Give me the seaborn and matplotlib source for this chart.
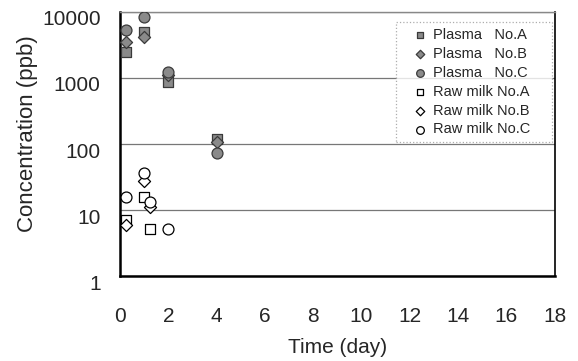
import pandas as pd
import numpy as np
import matplotlib
matplotlib.use("Agg")
import matplotlib.pyplot as plt
import matplotlib.transforms as mtransforms
import seaborn as sns

# data (log scale, ppb)
plasma_days = [0.25, 1, 2, 4]
plasma_A = [2450, 5000, 880, 120]
plasma_B = [3500, 4100, 1100, 108]
plasma_C = [5300, 8300, 1250, 74]

raw_A_days = [0.25, 1, 1.25]
raw_A = [7.2, 15.6, 5.2]
raw_B_days = [0.25, 1, 1.25]
raw_B = [6.0, 27.5, 11.2]
raw_C_days = [0.25, 1, 1.25, 2]
raw_C = [15.6, 37, 13.4, 5.2]

labels = ["Plasma   No.A", "Plasma   No.B", "Plasma   No.C",
          "Raw milk No.A", "Raw milk No.B", "Raw milk No.C"]

rows = []
for lab, d, v in zip(labels,
                     [plasma_days, plasma_days, plasma_days, raw_A_days, raw_B_days, raw_C_days],
                     [plasma_A, plasma_B, plasma_C, raw_A, raw_B, raw_C]):
    for x, y in zip(d, v):
        rows.append({"day": x, "conc": y, "series": lab})
df = pd.DataFrame(rows)

sns.set_style("white")
plt.rcParams['font.family'] = ['Liberation Sans', 'DejaVu Sans']

fig = plt.figure(figsize=(5.78, 3.61), dpi=100)
ax = fig.add_axes([0.2076, 0.235, 0.752, 0.732])

ax.yaxis.grid(True, color='#777777', linewidth=0.9)
ax.set_axisbelow(True)

markers = {labels[0]: 's', labels[1]: 'D', labels[2]: 'o',
           labels[3]: 's', labels[4]: 'D', labels[5]: 'o'}
sizes = {'s': 45, 'D': 38, 'o': 62}
for lab in labels:
    sub = df[df["series"] == lab]
    m = markers[lab]
    plasma = lab.startswith("Plasma")
    sns.scatterplot(data=sub, x="day", y="conc", ax=ax, marker=m,
                    s=sizes[m], label=lab + "    ",
                    color='#8a8a8a' if plasma else 'white',
                    edgecolor='#3a3a3a' if plasma else 'black',
                    linewidth=0.9, zorder=3)

ax.set_yscale('log')
ax.set_ylim(1, 10000)
ax.set_xlim(0, 18)
ax.set_xticks(range(0, 19, 2))
ax.set_yticks([1, 10, 100, 1000, 10000])
ax.set_yticklabels(['1', '10', '100', '1000', '10000'])
ax.minorticks_off()

ax.tick_params(axis='x', direction='in', length=5, width=0.8, pad=22, labelsize=15, color='#444444')
ax.tick_params(axis='y', direction='in', length=0, pad=14, labelsize=15)

# labels in the reference sit a bit below their gridlines
offset = mtransforms.ScaledTranslation(0, -6 / 100, fig.dpi_scale_trans)
for t in ax.get_yticklabels():
    t.set_transform(t.get_transform() + offset)

ax.set_xlabel("Time (day)", fontsize=15, labelpad=9)
ax.set_ylabel("Concentration (ppb)", fontsize=16)
ax.yaxis.set_label_coords(-0.188, 0.54)

for side in ['left', 'bottom']:
    ax.spines[side].set_color('black')
    ax.spines[side].set_linewidth(1.8)
ax.spines['top'].set_color('#888888')
ax.spines['top'].set_linewidth(1.0)
ax.spines['right'].set_color('black')
ax.spines['right'].set_linewidth(1.2)

leg = ax.legend(loc='upper right', bbox_to_anchor=(0.995, 0.96), fontsize=10.5,
                frameon=True, fancybox=False, borderaxespad=0.0,
                handletextpad=-0.45, labelspacing=0.33, borderpad=0.4,
                handlelength=2.6, markerscale=0.7)
leg.get_frame().set_edgecolor('#999999')
leg.get_frame().set_linestyle(':')
leg.get_frame().set_linewidth(0.9)

fig.savefig("out.png", dpi=100)
